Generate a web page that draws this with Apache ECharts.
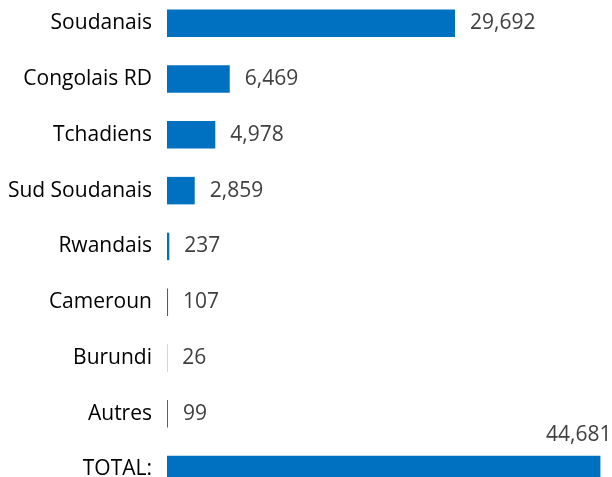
<!DOCTYPE html>
<html>
<head>
<meta charset="utf-8">
<script src="https://cdn.jsdelivr.net/npm/echarts@6/dist/echarts.min.js"></script>
<style>
  html, body { margin: 0; padding: 0; background: #fff; }
  #main { width: 612px; height: 477px; }
</style>
</head>
<body>
<div id="main"></div>
<script>
// categories, top to bottom
var categories = ['Soudanais', 'Congolais RD', 'Tchadiens', 'Sud Soudanais', 'Rwandais', 'Cameroun', 'Burundi', 'Autres', 'TOTAL:']
var values = [29692, 6469, 4978, 2859, 237, 107, 26, 99, 44681]

var chart = echarts.init(document.getElementById('main'))

var seriesData = values.map(function (v, i) {
  var item = { value: v }
  if (i === values.length - 1) {
    // total: label sits above the right end of the bar
    item.label = { position: 'insideTopRight', distance: 0, offset: [11, -31] }
  }
  return item
})

chart.setOption({
  animation: false,
  grid: { left: 167, top: -4.6, height: 502, width: 436.5, outerBoundsMode: 'none', containLabel: false },
  xAxis: {
    type: 'value',
    min: 0,
    max: 45000,
    show: false
  },
  yAxis: {
    type: 'category',
    data: categories,
    inverse: true,
    axisLine: { show: false },
    axisTick: { show: false },
    axisLabel: {
      margin: 15,
      fontFamily: 'Open Sans',
      fontSize: 21,
      color: '#000'
    }
  },
  series: [{
    type: 'bar',
    data: seriesData,
    barWidth: 27.5,
    itemStyle: { color: '#0070C0' },
    label: {
      show: true,
      position: 'right',
      distance: 15,
      fontFamily: 'Open Sans',
      fontSize: 21,
      color: '#404040',
      formatter: function (p) {
        return p.value.toLocaleString('en-US')
      }
    }
  }]
})
</script>
</body>
</html>
